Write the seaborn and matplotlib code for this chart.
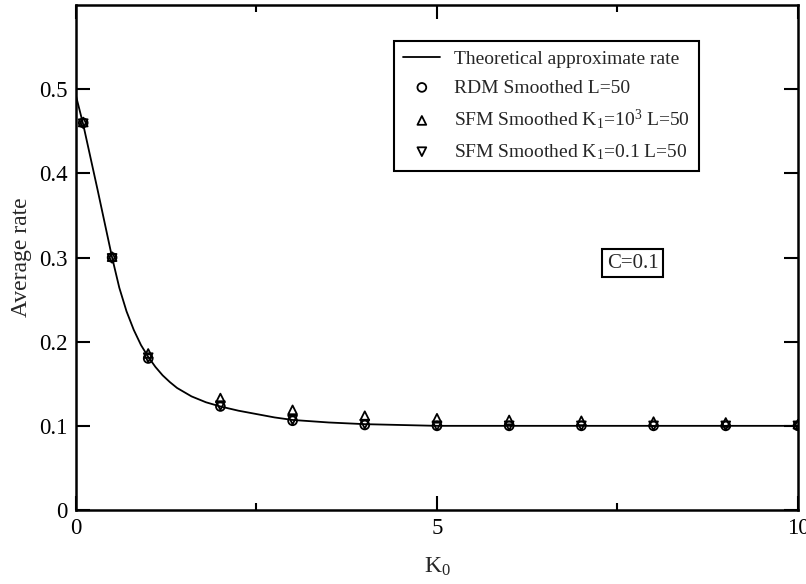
import numpy as np
import pandas as pd
import matplotlib
matplotlib.use('Agg')
import matplotlib.pyplot as plt
import seaborn as sns

# values
k0_pts = [0.1, 0.5, 1, 2, 3, 4, 5, 6, 7, 8, 9, 10]
rdm = [0.460, 0.300, 0.180, 0.123, 0.106, 0.101, 0.100, 0.100, 0.100, 0.100, 0.100, 0.100]
sfm_k1_big = [0.461, 0.301, 0.186, 0.133, 0.119, 0.112, 0.109, 0.107, 0.106, 0.105, 0.104, 0.102]
sfm_k1_small = [0.459, 0.299, 0.181, 0.124, 0.107, 0.102, 0.100, 0.100, 0.100, 0.100, 0.100, 0.100]

k0_theory = [0, 0.1, 0.2, 0.3, 0.4, 0.5, 0.6, 0.7, 0.8, 0.9, 1.0, 1.1, 1.2, 1.3, 1.4,
             1.6, 1.8, 2.0, 2.25, 2.5, 2.75, 3.0, 3.5, 4.0, 4.5, 5, 6, 7, 8, 9, 10]
rate_theory = [0.492, 0.458, 0.419, 0.380, 0.340, 0.300, 0.264, 0.236, 0.214, 0.196,
               0.182, 0.170, 0.160, 0.152, 0.145, 0.135, 0.128, 0.123, 0.118, 0.114,
               0.110, 0.107, 0.104, 0.102, 0.101, 0.100, 0.100, 0.100, 0.100, 0.100, 0.100]

sns.set_theme(style='ticks')
plt.rcParams['font.family'] = ['Liberation Serif', 'DejaVu Serif']
plt.rcParams['mathtext.fontset'] = 'custom'
plt.rcParams['mathtext.rm'] = 'Liberation Serif'
plt.rcParams['mathtext.default'] = 'regular'

fig = plt.figure(figsize=(8.06, 5.84), dpi=100)
ax = fig.add_axes([0.0943, 0.1267, 0.8957, 0.8647])

theory = pd.DataFrame({'K0': k0_theory, 'rate': rate_theory})
sns.lineplot(data=theory, x='K0', y='rate', ax=ax, color='black', lw=1.3,
             label='Theoretical approximate rate')

pts = pd.DataFrame({'K0': k0_pts, 'rdm': rdm, 'big': sfm_k1_big, 'small': sfm_k1_small})
mk = dict(facecolor='none', edgecolor='black', linewidth=1.3, s=40, ax=ax)
sns.scatterplot(data=pts, x='K0', y='rdm', marker='o', label='RDM Smoothed L=50', **mk)
sns.scatterplot(data=pts, x='K0', y='big', marker='^',
                label=r'SFM Smoothed K$_1$=10$^3$ L=50', **mk)
sns.scatterplot(data=pts, x='K0', y='small', marker='v',
                label=r'SFM Smoothed K$_1$=0.1 L=50', **mk)

ax.set_xlim(0, 10)
ax.set_ylim(0, 0.6)
ax.set_xticks([0, 5, 10])
ax.set_xticks([2.5, 7.5], minor=True)
ax.set_yticks([0, 0.1, 0.2, 0.3, 0.4, 0.5])
ax.set_yticklabels(['0', '0.1', '0.2', '0.3', '0.4', '0.5'])
ax.set_xticklabels(['0', '5', '10'])
ax.tick_params(which='both', direction='in', top=True, right=True, width=1.5,
               labelsize=16.5, colors='black', pad=6)
ax.tick_params(which='major', length=10)
ax.tick_params(which='minor', length=5)
for sp in ax.spines.values():
    sp.set_linewidth(1.8)
    sp.set_color('black')

ax.set_xlabel(r'K$_0$', fontsize=17, labelpad=12)
ax.set_ylabel('Average rate', fontsize=17, labelpad=5)

leg = ax.legend(loc='upper left', bbox_to_anchor=(0.44, 0.929), fontsize=14,
                frameon=True, fancybox=False, edgecolor='black', framealpha=1,
                borderpad=0.5, borderaxespad=0, handletextpad=0.7, labelspacing=0.55,
                handlelength=1.9)
leg.get_frame().set_linewidth(1.5)

ax.text(0.771, 0.489, 'C=0.1', transform=ax.transAxes, fontsize=15, ha='center', va='center',
        bbox=dict(boxstyle='square,pad=0.22', facecolor='white', edgecolor='black', lw=1.5))

fig.savefig('out.png', dpi=100)
